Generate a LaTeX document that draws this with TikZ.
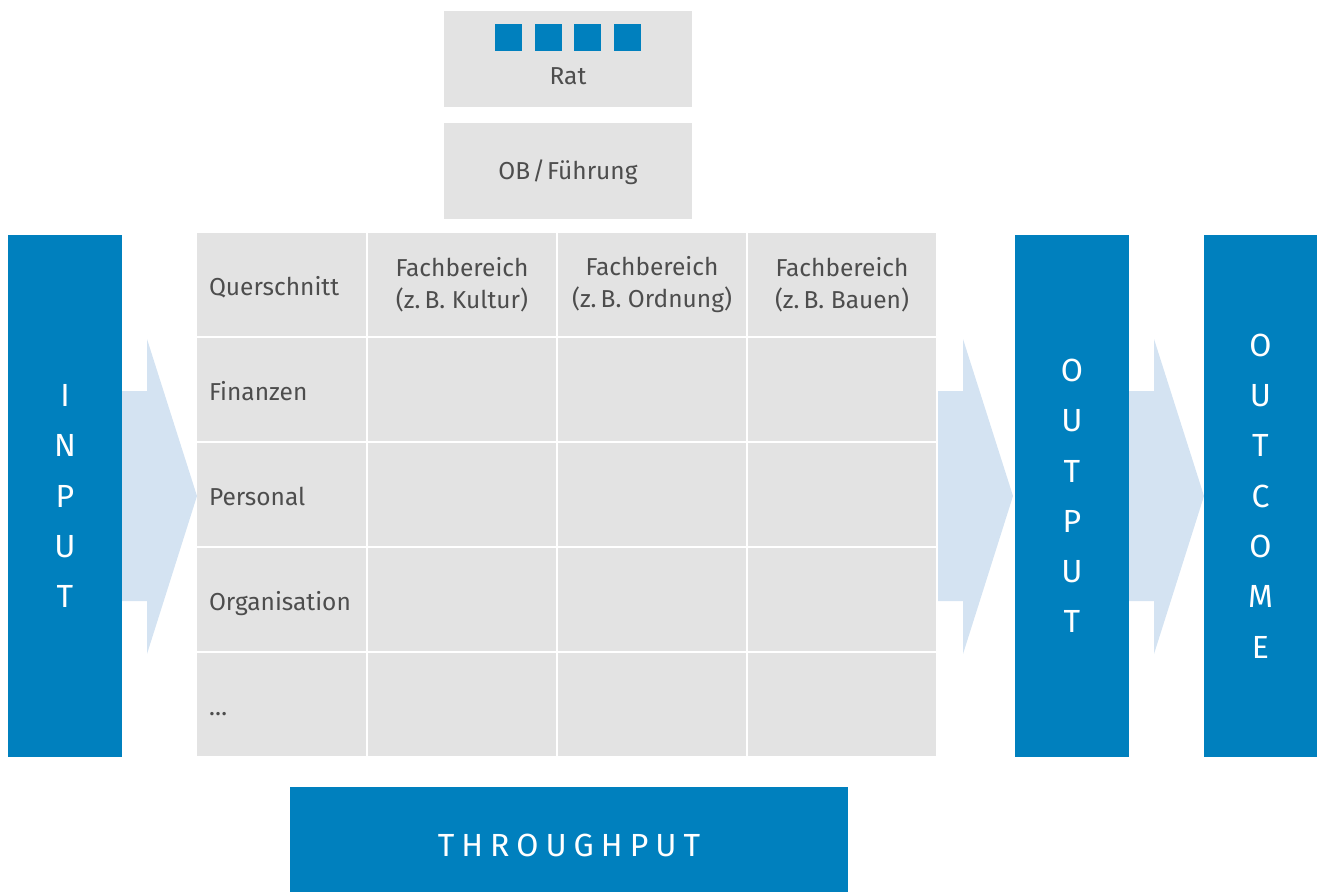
\documentclass[tikz,border=0pt]{standalone}
\usepackage{fontspec}
\setmainfont{Fira Sans}
\usepackage{xcolor}
\usetikzlibrary{positioning}
\definecolor{ratblue}{RGB}{0,128,190}
\definecolor{cellgray}{RGB}{227,227,227}
\definecolor{arrowblue}{RGB}{212,227,242}
\definecolor{textgray}{RGB}{77,77,77}

\begin{document}
\begin{tikzpicture}[x=1pt,y=-1pt,
        cell/.style={fill=cellgray, text=textgray, minimum width=188pt, minimum height=103pt,
            inner sep=0pt, align=center, font=\fontsize{24.5}{32}\selectfont},
        rowtext/.style={text height=22pt, text depth=0pt},
        box/.style={fill=cellgray, text=textgray, minimum width=248pt, minimum height=96pt,
            inner sep=0pt, font=\fontsize{24.5}{32}\selectfont},
        bar/.style={fill=ratblue, text=white, inner sep=0pt, align=center,
            font=\fontsize{32}{50.3}\selectfont},
        sq/.style={fill=ratblue, minimum size=27pt, inner sep=0pt}]
    \useasboundingbox (0,0) rectangle (1317,892);
    %\draw[help lines] (0,0) grid[step=100] (1317,892);
    \foreach \x in {122,938,1129}
        \fill[arrowblue, xshift=\x pt] (0,391) -- (25,391) -- (25,339) -- (75,496)
            -- (25,654) -- (25,601) -- (0,601) -- cycle;
    \node[box] (rat) at (568,59) {};
    \foreach \i in {0,...,3}
        \node[sq] (sq\i) at (508.5+39.7*\i,37.5) {};
    \node[text=textgray, font=\fontsize{24.5}{32}\selectfont] (rattext) at (568,76.5) {Rat};
    \node[box, text height=17pt, text depth=0pt] (ob) at (568,171) {OB\kern2pt/\kern2pt Führung};
    \foreach \r/\lab in {0/Querschnitt,1/Finanzen,2/Personal,3/Organisation,4/\ldots}
        \node[cell, rowtext, minimum width=169pt, text width=145pt, align=left] (q\r) at (281.5,284.5+105*\r) {\lab};
    \foreach \c/\fb in {1/Kultur,2/Ordnung,3/Bauen}
        \node[cell] (h\c) at (272+190*\c,284.5) {Fachbereich\\(z.\,B. \fb)};
    \foreach \c in {1,2,3}
        \foreach \r in {1,...,4}
            \node[cell] (c\c\r) at (272+190*\c,284.5+105*\r) {};
    \node[bar, minimum width=114pt, minimum height=522pt] (input) at (65,496) {I\\N\\P\\U\\T};
    \node[bar, minimum width=114pt, minimum height=522pt] (output) at (1072,496) {O\\U\\T\\P\\U\\T};
    \node[bar, minimum width=113pt, minimum height=522pt] (outcome) at (1260.5,496) {O\\U\\T\\C\\O\\M\\E};
    \node[bar, minimum width=558pt, minimum height=105pt] (through) at (569,839.5) {};
    \node[text=white, font=\fontsize{32}{40}\selectfont\addfontfeatures{LetterSpace=22}] (throughtext) at (569,845) {THROUGHPUT};
\end{tikzpicture}
\end{document}
